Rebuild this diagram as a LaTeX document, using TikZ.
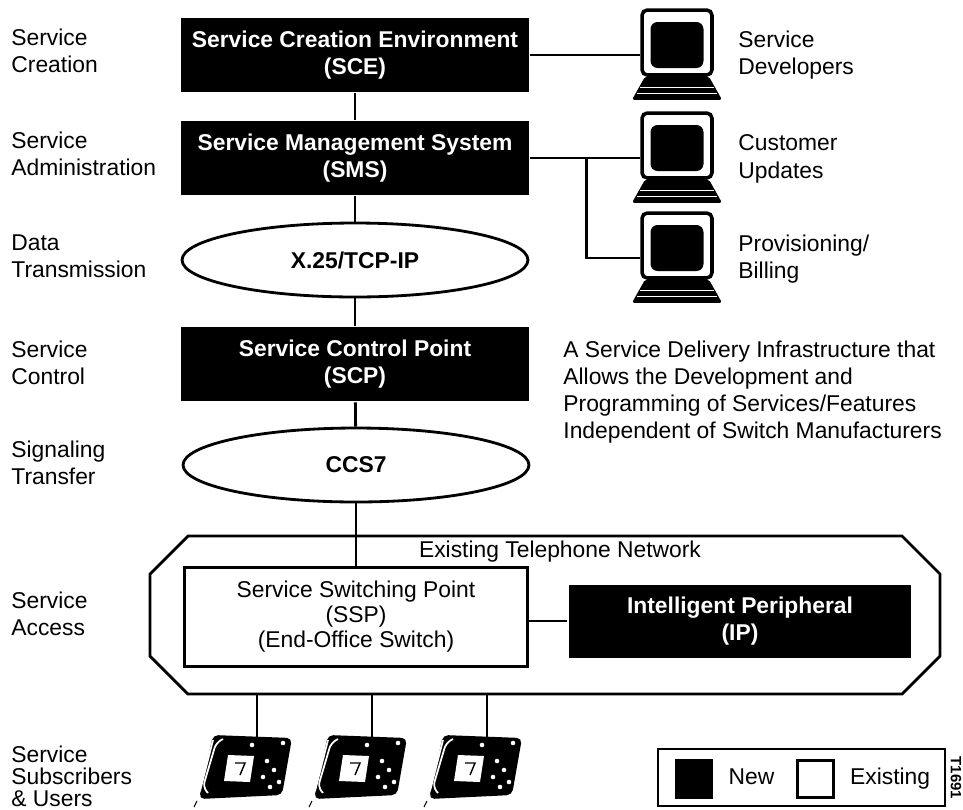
\documentclass[tikz,border=0pt]{standalone}
\usepackage{fontspec}
\setmainfont{Liberation Sans}
\usetikzlibrary{positioning,calc,shapes.geometric}

% desk terminal: monitor node #1 centred at #2, base below it
\newcommand{\terminal}[2]{%
    \node[monitor] (#1) at (#2) {};
    \node[screen] at ($(#1)+(0,2.5)$) {};
    \fill[rounded corners=1pt] ($(#1.south)+(-32,0)$) -- ++(64,0) -- ++(13,23) -- ++(-90,0) -- cycle;
    \draw[white, line width=0.8pt] ($(#1.south)+(-37,11)$) -- ++(74,0);
    \draw[white, line width=0.8pt] ($(#1.south)+(-40,17)$) -- ++(80,0);
}

% desk telephone hanging below coordinate #1
\newcommand{\telephone}[2]{%
    \coordinate (#1) at (#2);
    \begin{scope}[shift={(#1)}]
        \fill[rounded corners=3pt] (-44,-2) -- (35,1) -- (25,58) -- (-58,62) -- cycle;
        \draw[white, line width=1pt, rounded corners=3pt] (-34,2) -- (-41,6) -- (-54,50) -- (-49,56);
        \draw[white, line width=1pt, rounded corners=3pt] (-44,3) -- (-57,54);
        \fill[white] (-29,18) -- (-3,19) -- (-7,45) -- (-33,44) -- cycle;
        \draw[line width=0.8pt] (-22,26) -- (-12,26) -- (-17,38);
        \foreach \k in {(10,24),(17,33),(6,40),(13,50),(-5,8),(26,6),(22,45)}
            \fill[white] \k circle (1.3pt);
        \draw[line width=0.6pt] (-60,64) -- (-63,70);
    \end{scope}
}

\begin{document}
\begin{tikzpicture}[
    x=0.02cm, y=-0.02cm, line width=1.6pt,
    every node/.style={font=\fontsize{13}{15.5}\selectfont, inner sep=0pt},
    newBox/.style={rectangle, fill=black, text=white, align=center,
        font=\fontsize{13}{15.5}\selectfont\bfseries, minimum width=6.96cm, minimum height=1.48cm},
    oldBox/.style={rectangle, draw, fill=white, align=center, font=\fontsize{13}{14.2}\selectfont},
    linkNet/.style={ellipse, draw, fill=white, font=\fontsize{13}{15.5}\selectfont\bfseries,
        minimum width=6.92cm, minimum height=1.48cm},
    layer/.style={anchor=west, align=left},
    monitor/.style={rectangle, draw, fill=white, line width=2pt, rounded corners=3pt,
        minimum width=1.4cm, minimum height=1.3cm},
    screen/.style={rectangle, fill=black, rounded corners=4pt, minimum width=1.06cm, minimum height=0.92cm},
    keyBox/.style={rectangle, draw, line width=1.4pt, minimum width=0.72cm, minimum height=0.74cm},
    keyText/.style={text height=1.6ex, text depth=0.45ex}
]
    \useasboundingbox (0,0) rectangle (963,809);

    % existing telephone network
    \draw[fill=white] (188,536) -- (902,536) -- (940,574) -- (940,656) -- (902,694)
        -- (188,694) -- (150,656) -- (150,574) -- cycle;
    \coordinate (netBottom) at (545,694);
    \node (netLabel) at (560,552) {Existing Telephone Network};

    % main column
    \node[newBox] (sce) at (355,55) {Service Creation Environment\\(SCE)};
    \node[newBox] (sms) at (355,158) {Service Management System\\(SMS)};
    \node[linkNet] (x25) at (355,260) {X.25/TCP-IP};
    \node[newBox] (scp) at (355,364) {Service Control Point\\(SCP)};
    \node[linkNet] (ccs) at (356,465) {CCS7};
    \node[oldBox, minimum width=6.86cm, minimum height=1.98cm] (ssp) at (356,617)
        {Service Switching Point\\(SSP)\\(End-Office Switch)};
    \node[newBox, minimum width=6.86cm, minimum height=1.46cm] (ip) at (740,621)
        {Intelligent Peripheral\\(IP)};

    \draw (sce) -- (sms);
    \draw (sms) -- (x25);
    \draw (x25) -- (scp);
    \draw (scp) -- (ccs);
    \draw (ccs) -- (ssp);
    \draw (ip.west -| ssp.east) -- (ip.west);

    % layer names
    \node[layer] (lCreate) at (10,51) {Service\\Creation};
    \node[layer] (lAdmin) at (10,154) {Service\\Administration};
    \node[layer] (lData) at (10,256) {Data\\Transmission};
    \node[layer] (lControl) at (10,363) {Service\\Control};
    \node[layer] (lSignal) at (10,463) {Signaling\\Transfer};
    \node[layer] (lAccess) at (10,614) {Service\\Access};
    \node[layer, font=\fontsize{13}{12.5}\selectfont] (lUsers) at (10,776) {Service\\Subscribers\\\& Users};

    % terminals
    \terminal{devPC}{677,42.5}
    \terminal{custPC}{677,145.5}
    \terminal{billPC}{677,245.5}
    \node[layer] (devText) at (737,55) {Service\\Developers};
    \node[layer] (custText) at (737,159) {Customer\\Updates};
    \node[layer] (billText) at (737,259) {Provisioning/\\Billing};

    \coordinate (tap) at ($(sms.east)+(56,0)$);
    \draw (sce.east) -- (sce.east -| devPC.west);
    \draw (sms.east) -- (sms.east -| custPC.west);
    \draw (tap) |- ($(billPC.west)+(0,12.5)$);

    \node[layer] (note) at (562,392) {A Service Delivery Infrastructure that\\
        Allows the Development and\\Programming of Services/Features\\
        Independent of Switch Manufacturers};

    % subscribers
    \telephone{tel1}{257,737}
    \telephone{tel2}{372,737}
    \telephone{tel3}{487,737}
    \foreach \t in {tel1,tel2,tel3}
        \draw (netBottom -| \t) -- (\t);

    % legend
    \draw (658,749) rectangle (945,806);
    \node[keyBox, fill=black] (keyNew) at (694,779) {};
    \node[keyText, right=0.28cm of keyNew] (keyNewText) {New};
    \node[keyBox, fill=white] (keyOld) at (815.5,779) {};
    \node[keyText, right=0.28cm of keyOld] (keyOldText) {Existing};
    \node[rotate=-90, font=\fontsize{8.5}{9}\selectfont\bfseries] (figId) at (956,778) {T1691};
\end{tikzpicture}
\end{document}
